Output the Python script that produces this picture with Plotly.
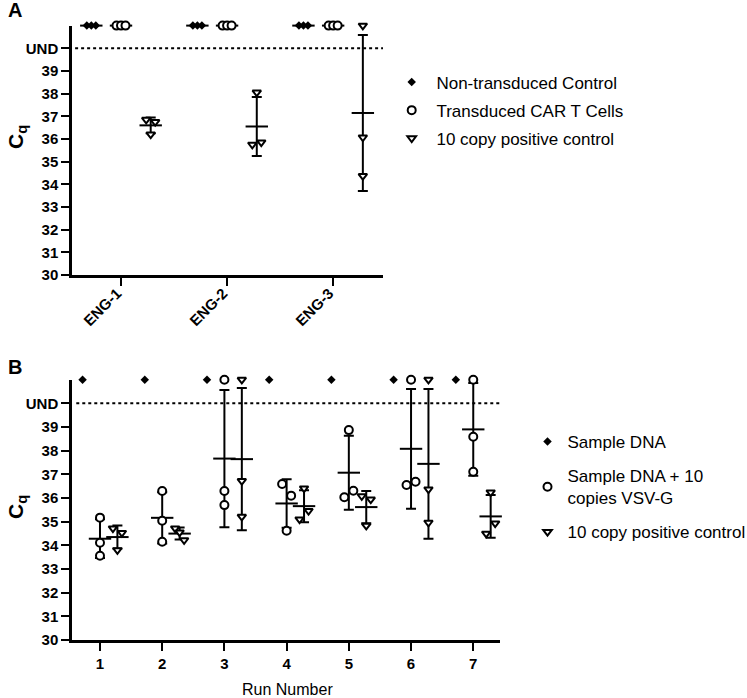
import numpy as np
import plotly.graph_objects as go

UND = 41.0  # plotting level used for "undetermined" (no amplification)

# ---------------- Panel A data ----------------
a_categories = ["ENG-1", "ENG-2", "ENG-3"]
a_nontransduced = [[UND, UND, UND], [UND, UND, UND], [UND, UND, UND]]
a_transduced = [[UND, UND, UND], [UND, UND, UND], [UND, UND, UND]]
a_positive = [[36.85, 36.75, 36.2], [38.05, 35.75, 35.85], [UND, 36.07, 34.37]]

# ---------------- Panel B data ----------------
b_runs = [1, 2, 3, 4, 5, 6, 7]
b_sample = [[UND], [UND], [UND], [UND], [UND], [UND], [UND]]
b_spiked = [[35.17, 34.11, 33.56], [36.3, 35.04, 34.15], [UND, 36.3, 35.7],
            [36.59, 36.1, 34.62], [38.87, 36.03, 36.31], [UND, 36.55, 36.69],
            [UND, 38.59, 37.11]]
b_positive = [[34.72, 34.53, 33.8], [34.72, 34.55, 34.22], [UND, 36.72, 35.21],
              [36.41, 35.1, 35.46], [36.08, 35.94, 34.83], [UND, 36.37, 34.96],
              [36.24, 34.5, 34.93]]

y_tickvals = [30, 31, 32, 33, 34, 35, 36, 37, 38, 39, 40]
y_ticktext = ["30", "31", "32", "33", "34", "35", "36", "37", "38", "39", "UND"]

# ---------------- layout geometry ----------------
W, H = 747, 698
FONT = "Liberation Sans, Arial, sans-serif"

A_X_PX = (72, 383)
A_Y_PX = (25.6, 275)
A_XRANGE = [-0.462, 2.47]
B_X_PX = (72, 500)
B_Y_PX = (379.7, 640)
B_XRANGE = [0.55, 7.43]
GROUP_OFFSET = 0.28


def xdom(px):
    return [px[0] / W, px[1] / W]


def ydom(px):
    return [1 - px[1] / H, 1 - px[0] / H]


def spread(values, ppu):
    n = len(values)
    order = sorted(range(n), key=lambda i: values[i])
    clusters = []
    for i in order:
        if clusters and abs(values[i] - values[clusters[-1][-1]]) < 0.5:
            clusters[-1].append(i)
        else:
            clusters.append([i])
    offs = [0.0] * n
    for c in clusters:
        c = sorted(c)
        m = len(c)
        sp = 9 if m == 2 else 4.5
        for k, i in enumerate(c):
            offs[i] = (k - (m - 1) / 2) * sp / ppu
    return offs


STYLES = {
    "diamond": dict(symbol="diamond", size=6.5, color="black", line=dict(width=0)),
    "circle": dict(symbol="circle", size=8, color="white", line=dict(color="black", width=2)),
    "tri": dict(symbol="triangle-down", size=7.5, color="white", line=dict(color="black", width=2)),
}

fig = go.Figure()


def add_series(groups, centers, name, style, xa, ya, legend, ppu):
    xs, ys, mx, my, sd = [], [], [], [], []
    for c, vals in zip(centers, groups):
        offs = spread(vals, ppu)
        xs += [c + o for o in offs]
        ys += list(vals)
        if len(vals) > 1:
            mx.append(c)
            my.append(float(np.mean(vals)))
            sd.append(float(np.std(vals, ddof=1)))
    if mx:
        fig.add_trace(go.Scatter(
            x=mx, y=my, mode="markers", xaxis=xa, yaxis=ya, showlegend=False,
            legendgroup=name, legend=legend, cliponaxis=False, hoverinfo="skip",
            marker=dict(symbol="line-ew", size=16, color="black",
                        line=dict(color="black", width=2)),
            error_y=dict(type="data", array=sd, visible=True, color="black",
                         thickness=2, width=5)))
    fig.add_trace(go.Scatter(
        x=xs, y=ys, mode="markers", xaxis=xa, yaxis=ya, name=name,
        legendgroup=name, legend=legend, cliponaxis=False,
        marker=STYLES[style]))


a_ppu = (A_X_PX[1] - A_X_PX[0]) / (A_XRANGE[1] - A_XRANGE[0])
b_ppu = (B_X_PX[1] - B_X_PX[0]) / (B_XRANGE[1] - B_XRANGE[0])
a_idx = list(range(len(a_categories)))

NB = "\u00a0"
add_series(a_nontransduced, [i - GROUP_OFFSET for i in a_idx], NB + "Non-transduced Control",
           "diamond", "x", "y", "legend", a_ppu)
add_series(a_transduced, [i for i in a_idx], NB + "Transduced CAR T Cells",
           "circle", "x", "y", "legend", a_ppu)
add_series(a_positive, [i + GROUP_OFFSET for i in a_idx], NB + "10 copy positive control",
           "tri", "x", "y", "legend", a_ppu)

add_series(b_sample, [r - GROUP_OFFSET for r in b_runs], "Sample DNA",
           "diamond", "x2", "y2", "legend2", b_ppu)
add_series(b_spiked, [r for r in b_runs], "Sample DNA + 10<br>copies VSV-G",
           "circle", "x2", "y2", "legend2", b_ppu)
add_series(b_positive, [r + GROUP_OFFSET for r in b_runs], "10 copy positive control",
           "tri", "x2", "y2", "legend2", b_ppu)

tickfont = dict(family=FONT, size=15, color="black", weight="bold")
axis_common = dict(showline=True, linewidth=2.5, linecolor="black", ticks="outside",
                   ticklen=8, tickwidth=2, tickcolor="black", showgrid=False,
                   zeroline=False, tickfont=tickfont, fixedrange=True)

fig.update_layout(
    width=W, height=H, margin=dict(l=0, r=0, t=0, b=0, autoexpand=False),
    paper_bgcolor="white", plot_bgcolor="white",
    font=dict(family=FONT, color="black"),
    xaxis=dict(domain=xdom(A_X_PX), range=A_XRANGE, anchor="y",
               tickmode="array", tickvals=a_idx, ticktext=a_categories,
               tickangle=-45, ticklabelshift=-4, ticklabelstandoff=-7, **axis_common),
    yaxis=dict(domain=ydom(A_Y_PX), range=[30, UND], anchor="x",
               tickmode="array", tickvals=y_tickvals, ticktext=y_ticktext, **axis_common),
    xaxis2=dict(domain=xdom(B_X_PX), range=B_XRANGE, anchor="y2",
                tickmode="array", tickvals=b_runs, ticktext=[str(r) for r in b_runs],
                **axis_common),
    yaxis2=dict(domain=ydom(B_Y_PX), range=[30, UND], anchor="x2",
                tickmode="array", tickvals=y_tickvals, ticktext=y_ticktext, **axis_common),
    legend=dict(x=(411.7 - 20) / W, y=1 - 64.5 / H, xanchor="left", yanchor="top",
                traceorder="grouped", tracegroupgap=3, bgcolor="rgba(0,0,0,0)",
                font=dict(family=FONT, size=17, color="black")),
    legend2=dict(x=(547.5 - 20) / W, y=1 - 424 / H, xanchor="left", yanchor="top",
                 traceorder="grouped", tracegroupgap=9, bgcolor="rgba(0,0,0,0)",
                 font=dict(family=FONT, size=17, color="black")),
    shapes=[
        dict(type="line", xref="x domain", yref="y", x0=0.01, x1=1, y0=40, y1=40,
             line=dict(color="black", width=2, dash="dot")),
        dict(type="line", xref="x2 domain", yref="y2", x0=0.01, x1=1, y0=40, y1=40,
             line=dict(color="black", width=2, dash="dot")),
    ],
    annotations=[
        dict(text="<b>A</b>", x=15 / W, y=1 - 10 / H, xref="paper", yref="paper",
             showarrow=False, font=dict(family=FONT, size=20, color="black"),
             xanchor="center", yanchor="middle"),
        dict(text="<b>B</b>", x=15 / W, y=1 - 367 / H, xref="paper", yref="paper",
             showarrow=False, font=dict(family=FONT, size=20, color="black"),
             xanchor="center", yanchor="middle"),
        dict(text="<b>C<sub>q</sub></b>", x=17 / W, y=1 - 137 / H, xref="paper",
             yref="paper", textangle=-90, showarrow=False,
             font=dict(family=FONT, size=21, color="black"),
             xanchor="center", yanchor="middle"),
        dict(text="<b>C<sub>q</sub></b>", x=17 / W, y=1 - 507 / H, xref="paper",
             yref="paper", textangle=-90, showarrow=False,
             font=dict(family=FONT, size=21, color="black"),
             xanchor="center", yanchor="middle"),
        dict(text="Run Number", x=287 / W, y=1 - 689 / H, xref="paper", yref="paper",
             showarrow=False, font=dict(family=FONT, size=16, color="black"),
             xanchor="center", yanchor="middle"),
    ],
)

fig.write_html(
    "out.html",
    config={"displayModeBar": False},
    post_script="document.documentElement.style.margin='0';"
                "document.body.style.margin='0';"
                "document.body.style.padding='0';"
                "document.body.style.overflow='hidden';",
)
